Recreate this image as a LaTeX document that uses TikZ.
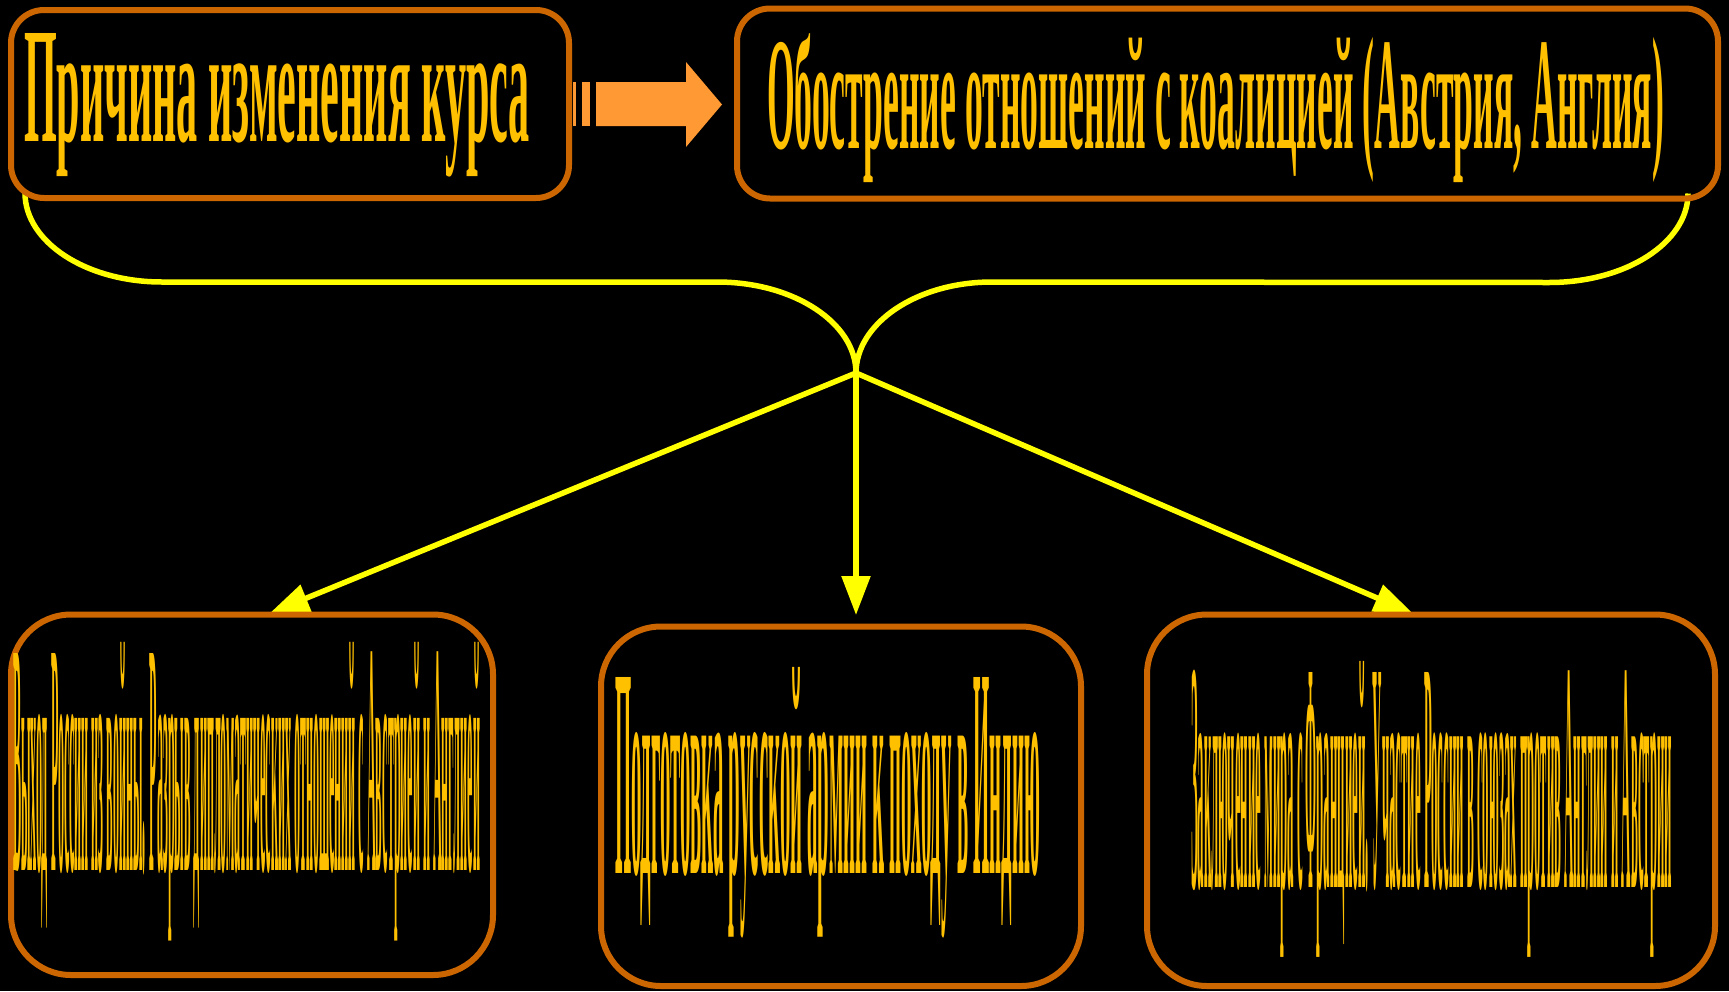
\documentclass[tikz,border=0pt]{standalone}
\usepackage{fontspec}
\setmainfont{Liberation Serif}
\usetikzlibrary{arrows.meta,calc}
\definecolor{bordero}{HTML}{CC6600}
\definecolor{blockor}{HTML}{FF9933}
\definecolor{goldtxt}{HTML}{FFC000}
\definecolor{ylw}{HTML}{FFFF00}
\newcommand{\fittext}[3]{\resizebox{#1pt}{#2pt}{\bfseries\smash{#3}\vphantom{H}}}
\pgfdeclarelayer{bg}
\pgfsetlayers{bg,main}
\begin{document}
\begin{tikzpicture}[x=1pt,y=-1pt,
  boxtop/.style={draw=bordero, line width=6pt, rounded corners=33pt, inner sep=0pt, outer sep=0pt},
  boxbot/.style={draw=bordero, line width=6pt, rounded corners=60pt, inner sep=0pt, outer sep=0pt},
  lbl/.style={anchor=base west, inner sep=0pt, outer sep=0pt, text=goldtxt},
  ylink/.style={draw=ylw, line width=5.5pt},
  yarrow/.style={draw=ylw, line width=5.5pt, -{Triangle[length=39pt,width=28pt]}}]
\useasboundingbox (0,0) rectangle (1729,991);
% boxes
\node[boxtop, minimum width=558pt, minimum height=188pt] (cause) at (290,104) {};
\node[boxtop, minimum width=981pt, minimum height=190pt] (aggr) at (1227.5,103.5) {};
\node[boxbot, minimum width=482pt, minimum height=360.5pt] (exit) at (252,794.75) {};
\node[boxbot, minimum width=480pt, minimum height=359.5pt] (india) at (841,806.25) {};
\node[boxbot, minimum width=568pt, minimum height=371.5pt] (peace) at (1431,800.25) {};
% texts
\node[lbl] (causetxt) at (24,141) {\fittext{506}{108}{Причина изменения курса}};
\node[lbl] (aggrtxt) at (767,148) {\fittext{897}{105}{Обострение отношений с коалицией (Австрия, Англия)}};
\node[lbl] (exittxt) at (13,870) {\fittext{467}{217}{Выход России из войны. Разрыв дипломатических отношений с Австрией и Англией}};
\node[lbl] (indiatxt) at (615,873) {\fittext{425}{196}{Подготовка русской армии к походу в Индию}};
\node[lbl] (peacetxt) at (1191,887) {\fittext{481}{215}{Заключение мира с Францией. Участие России в союзах против Англии и Австрии}};
% coordinates
\coordinate (hub) at (856,373);
\coordinate (cL) at ($(cause.south west)+(14,-5)$);
\coordinate (cR) at ($(aggr.south east)+(-30,-5)$);
\coordinate (tipL) at ($(exit.north)+(18,-1.5)$);
\coordinate (tipM) at ($(india.north)+(15,-11.5)$);
\coordinate (tipR) at ($(peace.north)+(-18,-1)$);
\begin{pgfonlayer}{bg}
\fill[black] (0,0) rectangle (1729,991);
\draw[ylink] (cL) .. controls ($(cL)+(0,49)$) and ($(cL)+(61,89)$) .. ($(cL)+(137,89)$) -- (717,282) .. controls (794,282) and (856,323) .. (hub);
\draw[ylink] (cR) .. controls ($(cR)+(0,49)$) and ($(cR)+(-62,89)$) .. ($(cR)+(-139,89)$) -- (992,282) .. controls (917,282) and (856,323) .. (hub);
\draw[yarrow] (hub) -- (tipL);
\draw[yarrow] (hub) -- (tipM);
\draw[yarrow] (hub) -- (tipR);
\end{pgfonlayer}
% block arrow between top boxes
\fill[blockor] (572.7,82) rectangle (576,126);
\fill[blockor] (582,82) rectangle (590,126);
\fill[blockor] (596,82) -- (686,82) -- (686,62) -- (722,104.5) -- (686,147) -- (686,126) -- (596,126) -- cycle;
\end{tikzpicture}
\end{document}
